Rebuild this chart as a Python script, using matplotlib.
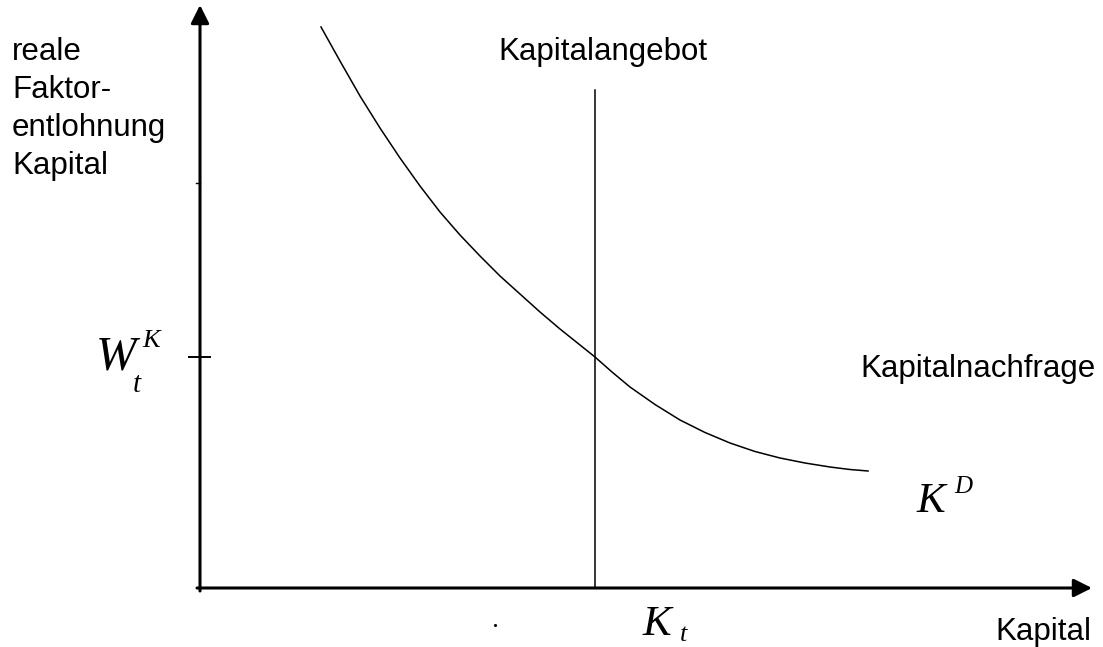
import matplotlib.pyplot as plt

# Kapitalnachfrage curve (origin = axis corner, pixel units)
kd_x = [121, 140, 160, 180, 200, 220, 240, 260, 280, 300, 320, 340, 360, 380, 395,
        412, 430, 455, 480, 505, 530, 555, 580, 605, 630, 650, 668]
kd_y = [561, 527, 492, 460, 430, 402, 376, 353, 332, 312, 294, 276, 259, 243, 231,
        216, 201, 183.5, 168, 155.5, 145, 136.5, 130, 125, 121, 118.5, 117]

# Kapitalangebot (vertical) and equilibrium
k_supply = 395
supply_top = 498
w_equil = 231

y_label_lines = ['reale', 'Faktor-', 'entlohnung', 'Kapital']

fig = plt.figure(figsize=(11.03, 6.47), dpi=100)
ax = fig.add_axes([0, 0, 1, 1])
ax.set_xlim(-200, 903)
ax.set_ylim(-59, 588)
ax.axis('off')

sans = 'Liberation Sans'
serif = 'Liberation Serif'

# axes with arrow heads
arrow = dict(arrowstyle='-|>,head_length=11,head_width=5.5', mutation_scale=1,
             lw=2.2, color='black', shrinkA=0, shrinkB=0)
ax.annotate('', xy=(0, 583), xytext=(0, -3), arrowprops=arrow)
ax.annotate('', xy=(892, 0), xytext=(-3, 0), arrowprops=arrow)

# curve and supply line
ax.plot(kd_x, kd_y, color='black', lw=1.1, solid_joinstyle='round')
ax.plot([k_supply, k_supply], [0, supply_top], color='black', lw=1.1)

# ticks
ax.plot([-11, 10], [w_equil, w_equil], color='black', lw=1.4)
ax.plot([-4, 0], [405, 405], color='black', lw=1.0)
ax.plot([295], [-37], marker='o', ms=1.2, color='black')

# labels
y0 = 588 - 60
for i, line in enumerate(y_label_lines):
    ax.text(-188, y0 - i * 38, line, family=sans, fontsize=22.5, va='baseline', ha='left')

ax.text(298, 588 - 60, 'Kapitalangebot', family=sans, fontsize=22.5, va='baseline')
ax.text(660, 588 - 377, 'Kapitalnachfrage', family=sans, fontsize=22.5, va='baseline')
ax.text(795, 588 - 640, 'Kapital', family=sans, fontsize=22.5, va='baseline')

# W_t^K
ax.text(-104, 588 - 369, 'W', family=serif, style='italic', fontsize=35, va='baseline')
ax.text(-67, 588 - 392, 't', family=serif, style='italic', fontsize=21, va='baseline')
ax.text(-58, 588 - 347, 'K', family=serif, style='italic', fontsize=19, va='baseline')

# K_t
ax.text(442, 588 - 635, 'K', family=serif, style='italic', fontsize=31, va='baseline')
ax.text(480, 588 - 641, 't', family=serif, style='italic', fontsize=19, va='baseline')

# K^D
ax.text(716, 588 - 512, 'K', family=serif, style='italic', fontsize=31, va='baseline')
ax.text(754, 588 - 493, 'D', family=serif, style='italic', fontsize=18, va='baseline')

fig.savefig('out.png', dpi=100)
plt.close(fig)
